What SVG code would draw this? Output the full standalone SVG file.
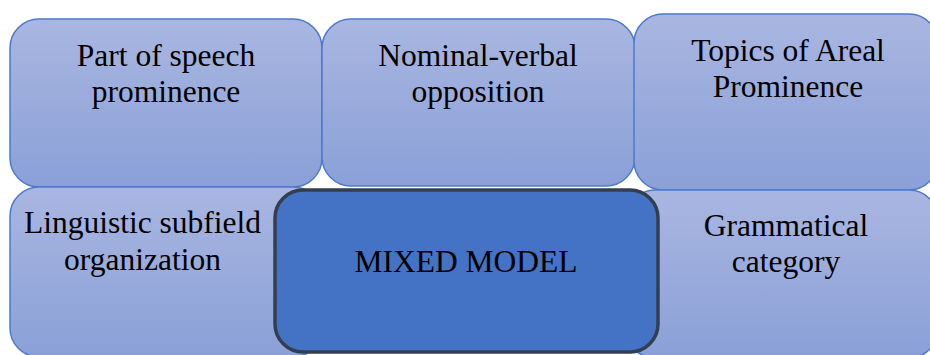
<svg xmlns="http://www.w3.org/2000/svg" width="930" height="355" viewBox="0 0 930 355">
  <defs>
    <linearGradient id="lg" x1="0" y1="0" x2="0" y2="1">
      <stop offset="0" stop-color="#a9b6e1"/>
      <stop offset="1" stop-color="#8aa0d7"/>
    </linearGradient>
    <style>
      .blk { fill: url(#lg); stroke: #4d7acb; stroke-width: 1.5; }
      .main { fill: #4472c4; stroke: #333f50; stroke-width: 3.5; }
      .t { font-size: 31.5px; fill: #000; text-anchor: middle; }
    </style>
  </defs>
  <rect width="930" height="355" fill="#ffffff"/>
  <g id="n-part-of-speech">
    <rect class="blk" x="10" y="19" width="312" height="168" rx="29" ry="29"/>
    <text class="t" font-family="Liberation Serif, serif" x="166" y="66">Part of speech</text>
    <text class="t" font-family="Liberation Serif, serif" x="166" y="102">prominence</text>
  </g>
  <g id="n-nominal-verbal">
    <rect class="blk" x="322" y="19" width="313" height="167" rx="29" ry="29"/>
    <text class="t" font-family="Liberation Serif, serif" x="478" y="66">Nominal-verbal</text>
    <text class="t" font-family="Liberation Serif, serif" x="478" y="102">opposition</text>
  </g>
  <g id="n-topics-areal">
    <rect class="blk" x="634" y="14" width="304" height="176" rx="29" ry="29"/>
    <text class="t" font-family="Liberation Serif, serif" x="788" y="61">Topics of Areal</text>
    <text class="t" font-family="Liberation Serif, serif" x="788" y="97">Prominence</text>
  </g>
  <g id="n-linguistic-subfield">
    <rect class="blk" x="10" y="187" width="312" height="170" rx="29" ry="29"/>
    <text class="t" font-family="Liberation Serif, serif" x="142.5" y="233">Linguistic subfield</text>
    <text class="t" font-family="Liberation Serif, serif" x="142.5" y="270">organization</text>
  </g>
  <g id="n-grammatical-category">
    <rect class="blk" x="626" y="190" width="312" height="168" rx="29" ry="29"/>
    <text class="t" font-family="Liberation Serif, serif" x="786" y="236">Grammatical</text>
    <text class="t" font-family="Liberation Serif, serif" x="786" y="272">category</text>
  </g>
  <g id="n-mixed-model">
    <rect class="main" x="275" y="190" width="383" height="162" rx="28" ry="28"/>
    <text class="t" font-family="Liberation Serif, serif" x="466" y="272">MIXED MODEL</text>
  </g>
  <g id="connectors"/>
</svg>
